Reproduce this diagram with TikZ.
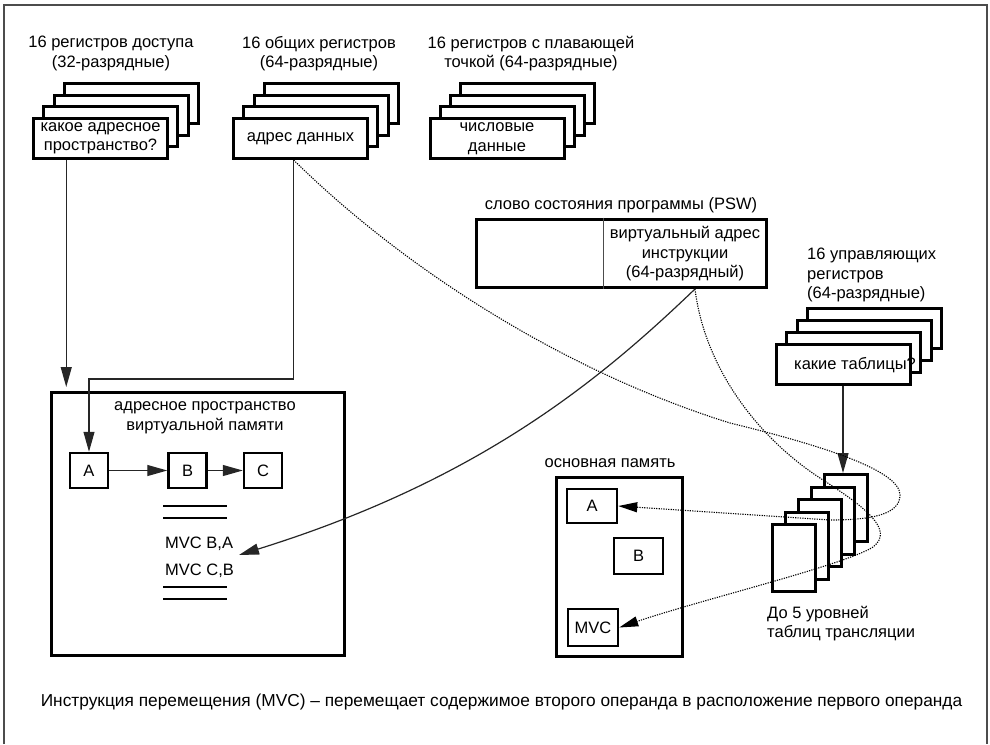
\documentclass[tikz,border=0pt]{standalone}
\usepackage{fontspec}
\setmainfont{Liberation Sans}
\usetikzlibrary{arrows.meta,calc}
\begin{document}
\begin{tikzpicture}[x=1pt,y=-1pt,
  every node/.style={font=\fontsize{16.5}{19.5}\selectfont},
  lbl/.style={align=center, inner sep=0},
  lblleft/.style={align=left, inner sep=0, anchor=west},
  reg/.style={draw, line width=3pt, fill=white, minimum width=134pt, minimum height=40pt, inner sep=0, align=center},
  table/.style={draw, line width=3pt, fill=white, minimum width=43pt, minimum height=67pt, inner sep=0},
  bigbox/.style={draw, line width=3pt, inner sep=0},
  cell/.style={draw, line width=2.5pt, fill=white, inner sep=0},
  frame/.style={draw=black!70, line width=1.5pt},
  arr/.style={line width=1.2pt, draw=black!85, -{Triangle[length=20pt,width=11pt]}},
  dotarr/.style={line width=1.1pt, draw=black, dash pattern=on 1.2pt off 1.2pt, -{Triangle[length=19pt,width=10pt]}}
]
\useasboundingbox (0,0) rectangle (990,744);

% outer frame
\draw[frame] (4,744) -- (4,5) -- (987,5) -- (987,744);

% register files
\node[lbl] (acctitle) at (111,53.5) {16 регистров доступа\\(32-разрядные)};
\foreach \k in {3,2,1}
  \node[reg] (acc\k) at (100.5+10.3*\k, 138.5-11.7*\k) {};
\node[reg] (acc0) at (100.5,138.5) {какое адресное\\пространство?};

\node[lbl] (gentitle) at (319,53.5) {16 общих регистров\\(64-разрядные)};
\foreach \k in {3,2,1}
  \node[reg] (gen\k) at (300.5+10.3*\k, 138.5-11.7*\k) {};
\node[reg] (gen0) at (300.5,138.5) {адрес данных};

\node[lbl] (fptitle) at (531,53.5) {16 регистров с плавающей\\точкой (64-разрядные)};
\foreach \k in {3,2,1}
  \node[reg] (fp\k) at (497+10.3*\k, 138.5-11.7*\k) {};
\node[reg] (fp0) at (497,138.5) {числовые\\данные};

% program status word
\node[lbl] (pswtitle) at (621,205) {слово состояния программы (PSW)};
\node[bigbox, minimum width=290pt, minimum height=68pt] (psw) at (621,253) {};
\draw[line width=1pt, black!70] (psw.north -| 603,0) -- (psw.south -| 603,0);
\node[lbl] (pswaddr) at (685,254) {виртуальный адрес\\инструкции\\(64-разрядный)};

% control registers
\node[lblleft, align=left] (ctltitle) at (807,275) {16 управляющих\\регистров\\(64-разрядные)};
\foreach \k in {3,2,1}
  \node[reg] (ctl\k) at (843+10.5*\k, 364.5-12*\k) {};
\node[reg] (ctl0) at (843,364.5) {};
\node[lbl] (ctltext) at (855,365) {какие таблицы?};

% translation tables
\foreach \k in {4,3,2,1,0}
  \node[table] (tt\k) at (794+12.9*\k, 558-12.5*\k) {};
\node[lblleft] (tttitle) at (767,623.5) {До 5 уровней\\таблиц трансляции};

% virtual address space
\node[bigbox, minimum width=293pt, minimum height=263pt] (vm) at (198,524) {};
\node[lbl] (vmtitle) at (205,418) {адресное пространство\\виртуальной памяти};
\node[cell, minimum width=38pt, minimum height=35pt] (vA) at (89,470.5) {A};
\node[cell, minimum width=38pt, minimum height=35pt] (vB) at (187.5,470.5) {B};
\node[cell, minimum width=38pt, minimum height=35pt] (vC) at (263,470.5) {C};
\draw[line width=1.2pt] (163,506) -- (227,506) (163,518) -- (227,518);
\draw[line width=1.2pt] (163,587) -- (227,587) (163,599) -- (227,599);
\node[lblleft] (mvc1) at (165,544) {MVC B,A};
\node[lblleft] (mvc2) at (165,571) {MVC C,B};
\coordinate (mvcin) at (239,555);

% main storage
\node[lbl] (mmtitle) at (610,463) {основная память};
\node[bigbox, minimum width=126pt, minimum height=179pt] (mm) at (619,566.5) {};
\node[cell, minimum width=50pt, minimum height=34pt] (mA) at (592,506) {A};
\node[cell, minimum width=49pt, minimum height=36pt] (mB) at (638.5,556) {B};
\node[cell, minimum width=50pt, minimum height=37pt] (mMVC) at (593,627.5) {MVC};

% caption
\node[lbl, font=\fontsize{17.3}{20}\selectfont] (caption) at (501.5,702) {Инструкция перемещения (MVC) – перемещает содержимое второго операнда в расположение первого операнда};

% connectors
\coordinate (a1) at ($(acc0.south west)!0.25!(acc0.south east)$);
\coordinate (g1) at ($(gen0.south west)!0.45!(gen0.south east)$);
\coordinate (pswout) at (695,289);

\draw[arr, shorten >=4pt] (a1) -- (a1 |- vm.north);
\draw[arr] (g1) -- ++(0,219) -| (vA.north);
\draw[arr] (vA.east) -- (vB.west);
\draw[arr] (vB.east) -- (vC.west);
\draw[arr] (ctl0.south) -- (ctl0.south |- tt4.north);

\draw[arr] (pswout) .. controls (600,380) and (480,480) .. (mvcin);

\draw[dotarr] (g1) .. controls (400,265) and (560,370) .. (730,423)
  .. controls (820,445) and (900,470) .. (900,495)
  .. controls (900,515) and (870,520) .. (830,520) -- (mA.east);

\draw[dotarr] (pswout) .. controls (705,370) and (760,440) .. (823,480)
  .. controls (865,507) and (895,530) .. (873,547)
  .. controls (845,565) and (700,600) .. (mMVC.east);
\end{tikzpicture}
\end{document}
